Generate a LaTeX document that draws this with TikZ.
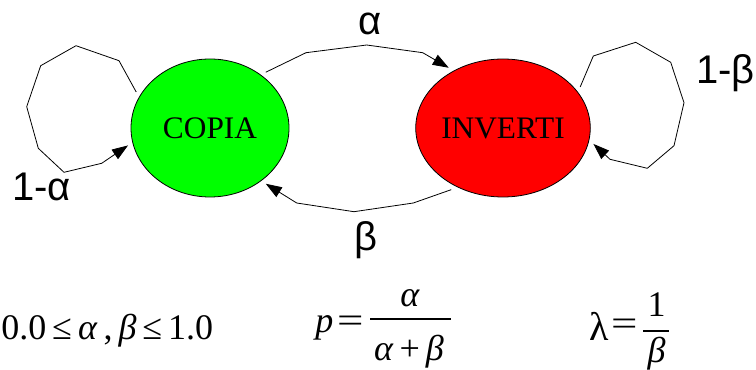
\documentclass[tikz,border=0pt]{standalone}
\usepackage{fontspec}
\setmainfont{Liberation Serif}
\newfontfamily\lsans{Liberation Sans}
\usetikzlibrary{arrows.meta,shapes.geometric}
\begin{document}
\begin{tikzpicture}[x=0.75pt,y=-0.75pt,
  statenode/.style={ellipse, draw, line width=0.6pt, minimum width=118.5pt, minimum height=103.5pt, inner sep=0pt, outer sep=4pt, font=\fontsize{23.5}{26}\selectfont},
  edgeline/.style={draw, line width=0.6pt, -{Triangle[length=12pt,width=8.5pt]}, line join=miter},
  elab/.style={font=\lsans\fontsize{30}{34}\selectfont, inner sep=0pt},
  ftext/.style={font=\fontsize{27}{32}\selectfont, inner sep=0pt},
  fbar/.style={line width=1.5pt}]
\useasboundingbox (0,0) rectangle (756,370);
\node[statenode, fill={rgb,255:red,0;green,255;blue,0}] (copia) at (210,128) {COPIA};
\node[statenode, fill={rgb,255:red,255;green,0;blue,0}] (inverti) at (503,128) {INVERTI};
% self loops
\draw[edgeline] (copia.154.8) -- (119,60.7) -- (76,45.7) -- (40.7,65.7) -- (26.7,106.7) -- (38.3,148.3) -- (64,172.3) -- (101.7,163.3) -- (copia.192.7);
\draw[edgeline] (inverti.28.2) -- (593.3,56) -- (635.7,42.3) -- (670.7,62.3) -- (684,102.7) -- (674,145.7) -- (647.3,168.3) -- (610,159.3) -- (inverti.-10.7);
% transitions
\draw[edgeline] (copia.45.8) -- (306,52.7) -- (366.7,45) -- (422.7,52.7) -- (inverti.132.1);
\draw[edgeline] (inverti.-130.6) -- (413.3,203) -- (354,211.7) -- (296.7,203) -- (copia.-45.2);
% labels
\node[elab, anchor=base] (la) at (370,35) {α};
\node[elab, anchor=base] (lb) at (366,250.5) {β};
\node[elab, anchor=base west] (l1a) at (12,201) {1-α};
\node[elab, anchor=base west] (l1b) at (696,83.3) {1-β};
% formulas
\node[ftext, anchor=base west] (ineq) at (1,339.3) {0.0\,≤\,\textit{α}\,,\,\textit{β}\,≤\,1.0};
\node[ftext, anchor=base west] (pp) at (315,332) {\textit{p}};
\node[ftext, anchor=base] (peq) at (350.3,332) {\scalebox{1.3}[1]{=}};
\coordinate (pb1) at (370,319.3);
\coordinate (pb2) at (451,319.3);
\draw[fbar] (pb1) -- (pb2);
\node[ftext, anchor=base] (pnum) at (410,306.7) {\textit{α}};
\node[ftext, anchor=base] (pden) at (409,360) {\textit{α}\,+\,\textit{β}};
\node[ftext, anchor=base west, font=\fontsize{30}{34}\selectfont] (lam) at (589,340) {λ};
\node[ftext, anchor=base] (leq) at (624.2,335) {\scalebox{1.3}[1]{=}};
\coordinate (lb1) at (643.3,330.7);
\coordinate (lb2) at (669,330.7);
\draw[fbar] (lb1) -- (lb2);
\node[ftext, anchor=base] (lnum) at (656.5,316.7) {1};
\node[ftext, anchor=base] (lden) at (656.7,362) {\textit{β}};
\end{tikzpicture}
\end{document}
